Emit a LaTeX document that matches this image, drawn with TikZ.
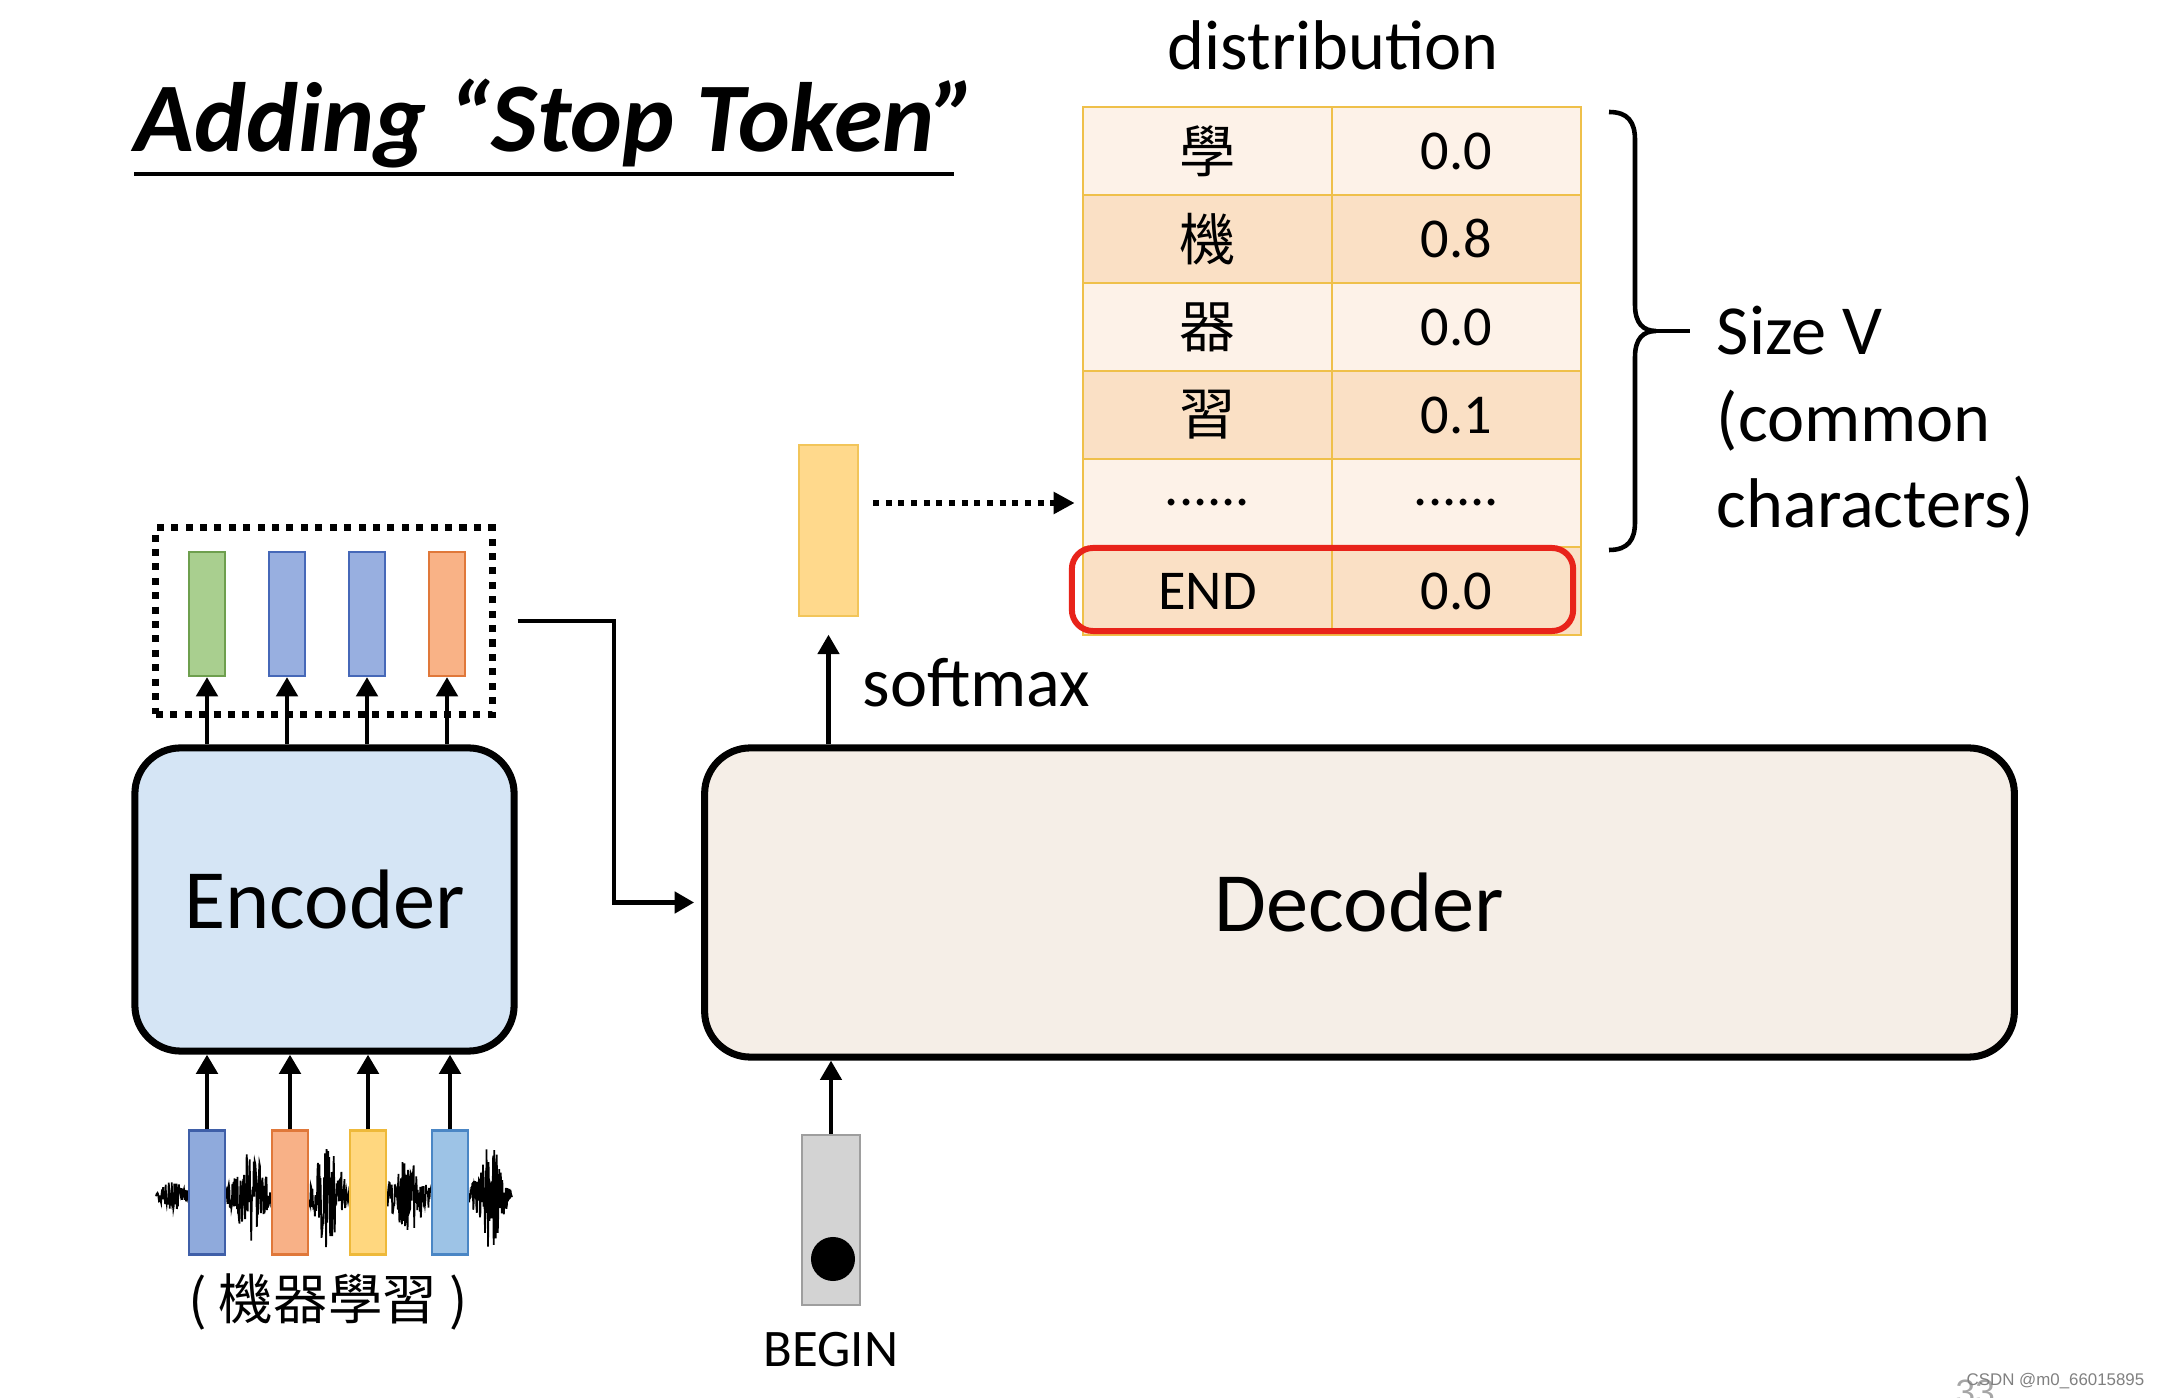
\documentclass[tikz,border=0pt]{standalone}
\usepackage{fontspec}
\setmainfont{Carlito}
\newfontfamily\cjk{Noto Sans CJK TC}
\newfontfamily\wmfont{Liberation Sans}
\usetikzlibrary{positioning, arrows.meta, calc}
\definecolor{encFill}{HTML}{D5E5F5}
\definecolor{decFill}{HTML}{F5EEE7}
\definecolor{tabLight}{HTML}{FDF2E8}
\definecolor{tabDark}{HTML}{FAE0C5}
\definecolor{tabBorder}{HTML}{EFC04A}
\definecolor{endRed}{HTML}{E8231A}
\definecolor{hGreen}{HTML}{A9CF8F}
\definecolor{hGreenD}{HTML}{6E9F4E}
\definecolor{hBlue}{HTML}{98AFE0}
\definecolor{hBlueD}{HTML}{4668B8}
\definecolor{hOrange}{HTML}{F9B286}
\definecolor{hOrangeD}{HTML}{E0783A}
\definecolor{inBlueA}{HTML}{8FAADC}
\definecolor{inBlueAD}{HTML}{3F5FA8}
\definecolor{inOrange}{HTML}{F8B187}
\definecolor{inOrangeD}{HTML}{E0783A}
\definecolor{inYellow}{HTML}{FFD77F}
\definecolor{inYellowD}{HTML}{EEB93A}
\definecolor{inBlueB}{HTML}{9DC3E6}
\definecolor{inBlueBD}{HTML}{4A86C5}
\definecolor{yFill}{HTML}{FFD98C}
\definecolor{yDraw}{HTML}{F2C55A}
\definecolor{bosFill}{HTML}{D3D3D3}
\definecolor{bosDraw}{HTML}{9E9E9E}
\newcommand{\tabdots}{......}
\tikzset{
  titletxt/.style={
    font=\fontsize{28}{32}\selectfont\bfseries\itshape, inner sep=0pt,
  },
  coder/.style={
    draw=black, line width=2pt, rounded corners=13pt,
    font=\fontsize{24}{28}\selectfont,
  },
  vec/.style={
    minimum width=0.36cm, minimum height=1.24cm, inner sep=0pt, line width=0.6pt,
  },
  cell/.style={
    draw=tabBorder, line width=0.7pt, minimum width=2.49cm, minimum height=0.88cm,
    inner sep=0pt, font=\fontsize{16}{18}\selectfont,
  },
  lbl/.style={
    font=\fontsize{20}{24}\selectfont, inner sep=0pt,
  },
  smalllbl/.style={
    font=\fontsize{15}{18}\selectfont, inner sep=0pt,
  },
  arr/.style={
    -{Triangle[length=5.5pt, width=6pt]}, line width=1.4pt,
  },
  dotarr/.style={
    -{Triangle[length=6pt, width=6pt]}, line width=1.7pt, dash pattern=on 1.7pt off 1.9pt,
  },
  hbox/.style={
    draw=black, line width=2pt, dash pattern=on 2pt off 2.1pt,
  },
  endbox/.style={
    draw=endRed, line width=1.7pt, rounded corners=6pt,
  },
  brace/.style={
    line width=1.3pt,
  },
}

\begin{document}
\begin{tikzpicture}[x=0.01cm, y=-0.01cm,
  declare function={wenv(\x)=5+14*exp(-min(((\x-172)/9)^2,9))+42*exp(-min(((\x-250)/16)^2,9))
    +48*exp(-min(((\x-328)/14)^2,9))+34*exp(-min(((\x-408)/16)^2,9))+48*exp(-min(((\x-490)/13)^2,9));}]
  \useasboundingbox (0,0) rectangle (2160,1398);

  % === Title ===
  \node[titletxt, anchor=base west] (title) at (134,152) {Adding “Stop Token”};
  \draw[line width=0.9pt] (134,174) -- (954,174);

  % === Encoder and its input ===
  \node[coder, fill=encFill, minimum width=3.79cm, minimum height=3.03cm] (enc) at (324.5,899.5) {Encoder};

  \pgfmathsetseed{11}
  \draw[line width=0.5pt] plot[domain=156:512, samples=700] (\x, {1196+wenv(\x)*rand});

  \foreach \f/\d/\x [count=\i] in {inBlueA/inBlueAD/207, inOrange/inOrangeD/290, inYellow/inYellowD/368, inBlueB/inBlueBD/450} {
    \node[vec, fill=\f, draw=\d] (x\i) at (\x,1192.5) {};
    \draw[arr] (x\i.north) -- (x\i.north |- enc.south);
  }
  \node[font=\cjk\fontsize{15.5}{18}\selectfont, inner sep=0pt] (inlbl) at (328,1302) {( 機器學習 )};

  % === Encoder output ===
  \node[hbox, minimum width=3.36cm, minimum height=1.86cm] (hframe) at (324,621) {};
  \foreach \f/\d/\x [count=\i] in {hGreen/hGreenD/207, hBlue/hBlueD/287, hBlue/hBlueD/367, hOrange/hOrangeD/447} {
    \node[vec, fill=\f, draw=\d] (h\i) at (\x,614) {};
    \draw[arr] (h\i.south |- enc.north) -- (h\i.south);
  }

  % === Decoder ===
  \node[coder, fill=decFill, minimum width=13.09cm, minimum height=3.09cm] (dec) at (1359.5,902.5) {Decoder};
  \draw[arr, line width=1.2pt, shorten >=2pt] ([xshift=0.22cm]hframe.east) -- ++(96,0) |- (dec.west);

  % === BEGIN token ===
  \node[vec, fill=bosFill, draw=bosDraw, minimum width=0.58cm, minimum height=1.70cm] (bos) at (831,1220) {};
  \node[circle, fill=black, inner sep=0pt, minimum size=0.44cm] (bosdot) at (833,1259) {};
  \node[smalllbl, below=0.25cm of bos] (bostxt) {BEGIN};
  \draw[arr, line width=1.2pt] (bos.north) -- (bos.north |- dec.south);

  % === Output distribution ===
  \node[vec, fill=yFill, draw=yDraw, minimum width=0.59cm, minimum height=1.71cm] (yout) at (828.5,530.5) {};
  \draw[arr, line width=1.2pt, shorten >=5pt] (yout.south |- dec.north) -- (yout.south);
  \node[lbl, anchor=base west] (smx) at (862,707) {softmax};

  \foreach \ch/\val/\f [count=\i] in {{\cjk 學}/0.0/tabLight, {\cjk 機}/0.8/tabDark, {\cjk 器}/0.0/tabLight,
      {\cjk 習}/0.1/tabDark, {\tabdots}/{\tabdots}/tabLight, END/0.0/tabDark} {
    \node[cell, fill=\f] (k\i) at (1207.5,{63+88*\i}) {\ch};
    \node[cell, fill=\f] (p\i) at (1456.5,{63+88*\i}) {\val};
  }
  \node[endbox, minimum width=5.01cm, minimum height=0.83cm] (endmark) at (1322.5,589.5) {};
  \node[lbl, above=0.35cm of k1.north east] (dist) {distribution};
  \draw[dotarr, shorten <=4pt, shorten >=2pt] (yout.east |- k5.west) -- (k5.west);

  % === Vocabulary brace ===
  \draw[brace] (1609,112) .. controls (1628,112) and (1635,122) .. (1635,140) -- (1635,305)
    .. controls (1635,323) and (1643,331) .. (1656,331)
    .. controls (1643,331) and (1635,339) .. (1635,357) -- (1635,522)
    .. controls (1635,540) and (1628,550) .. (1609,550);
  \draw[brace] (1656,331) -- (1690,331);
  \node[lbl, anchor=base west] (sizev) at (1716,355) {Size V};
  \node[lbl, anchor=base west] (common) at ([yshift=-0.86cm]sizev.base west) {(common};
  \node[lbl, anchor=base west] (chars) at ([yshift=-0.86cm]common.base west) {characters)};

  % === Slide footer ===
  \begin{scope}
    \clip (0,0) rectangle (2160,1398);
    \node[font=\wmfont\fontsize{10}{10}\selectfont, text=gray!70, inner sep=0pt, anchor=north west] (pgno) at (1955,1379) {33};
    \node[font=\wmfont\fontsize{4.8}{5}\selectfont, text=gray, inner sep=0pt, anchor=base east] (wmark) at (2145,1386) {CSDN @m0\_66015895};
  \end{scope}

\end{tikzpicture}
\end{document}
